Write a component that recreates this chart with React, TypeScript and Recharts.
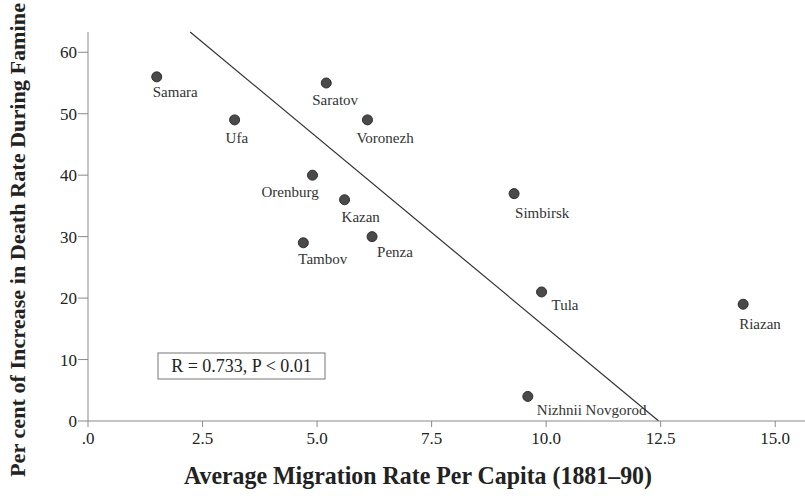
import { ScatterChart, Scatter, XAxis, YAxis, ReferenceLine, Customized } from 'recharts'

// provinces, migration rate (x) and % increase in death rate (y)
const provinces = ['Samara', 'Ufa', 'Saratov', 'Voronezh', 'Orenburg', 'Kazan', 'Penza', 'Tambov', 'Simbirsk', 'Tula', 'Riazan', 'Nizhnii Novgorod']
const migrationRate = [1.5, 3.2, 5.2, 6.1, 4.9, 5.6, 6.2, 4.7, 9.3, 9.9, 14.3, 9.6]
const deathIncrease = [56, 49, 55, 49, 40, 36, 30, 29, 37, 21, 19, 4]

const xTicks = [0, 2.5, 5, 7.5, 10, 12.5, 15]
const yTicks = [0, 10, 20, 30, 40, 50, 60]

// fitted line y = a + b*x
const fitIntercept = 77.1
const fitSlope = -6.19
const yMax = 63.3
const xMax = 15.65

// where each name sits relative to its dot
const labelDx = [-4, -9, -14, -11, -51, -3, 5, -5, 1, 10, -4, 9]
const labelDy = [20, 23, 22, 23, 22, 22, 20, 21, 24, 18, 25, 19]

const points = provinces.map((name, i) => ({ name, x: migrationRate[i], y: deathIncrease[i], i }))

const fitStart = { x: (fitIntercept - yMax) / -fitSlope, y: yMax }
const fitEnd = { x: fitIntercept / -fitSlope, y: 0 }

const serif = "'Liberation Serif', 'DejaVu Serif', serif"

function Dot(props: any) {
  const { cx, cy, payload } = props
  const i = payload.i
  return (
    <g>
      <circle cx={cx} cy={cy} r={5} fill="#4a4a4a" stroke="#2e2e2e" strokeWidth={1} />
      <text x={cx + labelDx[i]} y={cy + labelDy[i]} style={{ fontSize: 15, fontFamily: serif }} fill="#333">
        {payload.name}
      </text>
    </g>
  )
}

function Titles() {
  return (
    <g style={{ fontFamily: serif }} fill="#222">
      <text
        x={418}
        y={484}
        style={{ fontSize: 25, fontWeight: 'bold', fontFamily: serif }}
        textAnchor="middle"
        textLength={468}
        lengthAdjust="spacingAndGlyphs"
      >
        Average Migration Rate Per Capita (1881–90)
      </text>
      <text
        transform="translate(25,240) rotate(-90)"
        style={{ fontSize: 22, fontWeight: 'bold', fontFamily: serif }}
        textAnchor="middle"
        textLength={474}
        lengthAdjust="spacingAndGlyphs"
      >
        Per cent of Increase in Death Rate During Famine
      </text>
      <rect x={158} y={353} width={167} height={26} fill="#fff" stroke="#777" strokeWidth={1} />
      <text x={241.5} y={372} style={{ fontSize: 18, fontFamily: serif }} textAnchor="middle">
        R = 0.733, P &lt; 0.01
      </text>
    </g>
  )
}

const tickStyle = { fontSize: 17, fill: '#222', fontFamily: serif, style: { fontFamily: serif } }

export default function App() {
  return (
    <div style={{ position: 'absolute', left: 0, top: 0, background: '#fff', fontFamily: serif }}>
      <ScatterChart width={805} height={496} margin={{ top: 32, right: 0, bottom: 0, left: 0 }} style={{ fontFamily: serif }}>
        <XAxis
          type="number"
          dataKey="x"
          domain={[0, xMax]}
          ticks={xTicks}
          tickFormatter={(v: number) => (v === 0 ? '.0' : v.toFixed(1))}
          tick={tickStyle}
          stroke="#8a8a8a"
          tickSize={6}
          tickMargin={5}
          height={75}
          allowDataOverflow
        />
        <YAxis
          type="number"
          dataKey="y"
          domain={[0, yMax]}
          ticks={yTicks}
          tick={tickStyle}
          stroke="#8a8a8a"
          tickSize={10}
          tickMargin={1}
          width={88}
          allowDataOverflow
        />
        <ReferenceLine
          segment={[fitStart, fitEnd]}
          stroke="#333"
          strokeWidth={1.2}
          ifOverflow="visible"
        />
        <Scatter data={points} shape={Dot} isAnimationActive={false} />
        <Customized component={Titles} />
      </ScatterChart>
    </div>
  )
}
